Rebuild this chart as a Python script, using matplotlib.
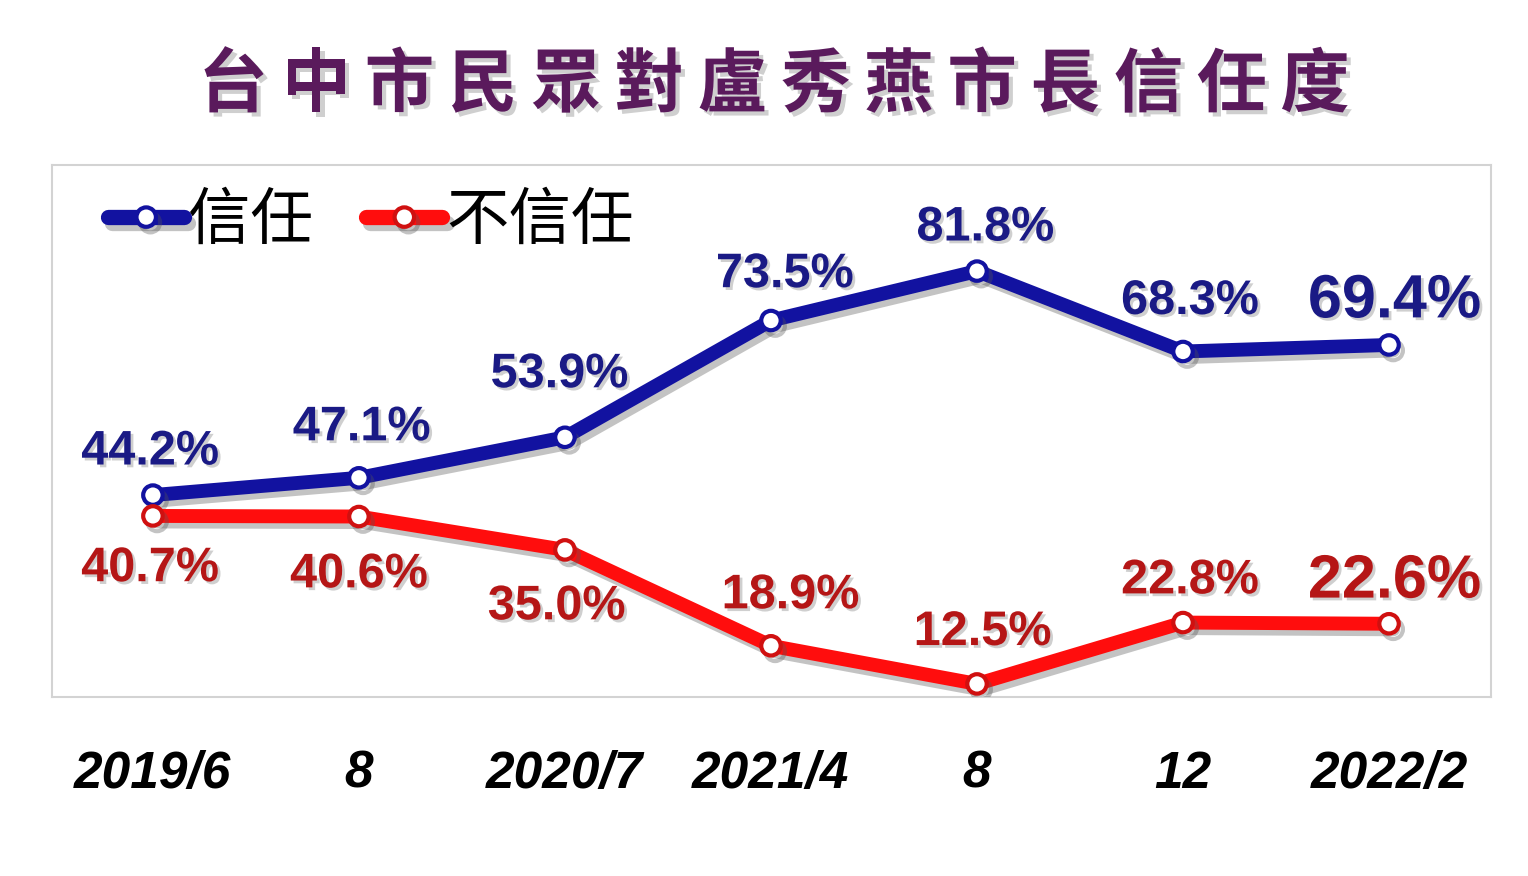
import matplotlib
matplotlib.use("Agg")
import matplotlib.pyplot as plt
import matplotlib.patheffects as pe
from matplotlib import font_manager

# ---- data ----
periods = ["2019/6", "8", "2020/7", "2021/4", "8", "12", "2022/2"]
trust = [44.2, 47.1, 53.9, 73.5, 81.8, 68.3, 69.4]
distrust = [40.7, 40.6, 35.0, 18.9, 12.5, 22.8, 22.6]
series_names = ["信任", "不信任"]
title = "台中市民眾對盧秀燕市長信任度"

# ---- layout for labels (offsets in points) ----
trust_off = [(-2, 31), (2, 36), (-4, 45), (10, 33), (6, 31), (5, 36), (4, 31)]
distrust_off = [(-2, -38), (0, -42), (-6, -41), (14, 36), (4, 37), (5, 30), (4, 30)]

installed = {f.name for f in font_manager.fontManager.ttflist}
num_font = ["Liberation Sans Narrow"] if "Liberation Sans Narrow" in installed else ["Liberation Sans"]
cjk = ["Noto Sans CJK TC", "DejaVu Sans"]

BLUE = "#1212a0"
RED = "#ff0d0d"
BLUE_T = "#1a1a85"
RED_T = "#b51616"

fig = plt.figure(figsize=(15.28, 8.76), dpi=100)
fig.patch.set_facecolor("white")
ax = fig.add_axes([0.034, 0.2043, 0.9418, 0.6073])

x = list(range(len(periods)))
line_fx = [pe.SimpleLineShadow(offset=(3, -4), shadow_color="#555555", alpha=0.35), pe.Normal()]
ax.plot(x, trust, color=BLUE, lw=10, marker="o", ms=14, mfc="white", mec=BLUE, mew=3,
        solid_capstyle="round", label=series_names[0], path_effects=line_fx, zorder=3)
ax.plot(x, distrust, color=RED, lw=10, marker="o", ms=14, mfc="white", mec="#d01010", mew=3,
        solid_capstyle="round", label=series_names[1], path_effects=line_fx, zorder=3)

txt_fx = [pe.withSimplePatchShadow(offset=(2, -2), shadow_rgbFace="#777777", alpha=0.35)]
n = len(x)
for i, (v, off) in enumerate(zip(trust, trust_off)):
    last = i == n - 1
    ax.annotate(f"{v:.1f}%", (x[i], v), xytext=off, textcoords="offset points",
                ha="center", va="center", family=num_font, weight="bold",
                fontsize=44 if last else 35, color=BLUE_T, path_effects=txt_fx, zorder=4)
for i, (v, off) in enumerate(zip(distrust, distrust_off)):
    last = i == n - 1
    ax.annotate(f"{v:.1f}%", (x[i], v), xytext=off, textcoords="offset points",
                ha="center", va="center", family=num_font, weight="bold",
                fontsize=44 if last else 35, color=RED_T, path_effects=txt_fx, zorder=4)

ax.set_xlim(-0.49, 6.495)
ax.set_ylim(10.3, 99.6)
ax.set_yticks([])
ax.set_xticks(x)
ax.set_xticklabels(periods, family=num_font, weight="bold", style="italic", fontsize=37, color="black")
ax.tick_params(axis="x", length=0, pad=38)
for s in ax.spines.values():
    s.set_color("#d3d3d3")
    s.set_linewidth(1.5)

leg = ax.legend(loc="upper left", bbox_to_anchor=(0.039, 0.955), ncol=2, frameon=False,
                prop={"family": cjk, "size": 45}, handlelength=1.22, handletextpad=0.06,
                columnspacing=0.85, borderpad=0, borderaxespad=0)
for h in leg.get_lines():
    h.set_linewidth(11)
    h.set_markersize(14)

# title with wide letter spacing
x0, x1 = 233 / 1528, 1315 / 1528
step = (x1 - x0) / (len(title) - 1)
for k, ch in enumerate(title):
    fig.text(x0 + k * step, 1 - 86 / 876, ch, ha="center", va="center", family=cjk,
             fontsize=50, weight="bold", color="#5a1a5c",
             path_effects=[pe.withSimplePatchShadow(offset=(3, -3), shadow_rgbFace="#888888", alpha=0.4)])

fig.savefig("out.png", dpi=100, facecolor="white")
